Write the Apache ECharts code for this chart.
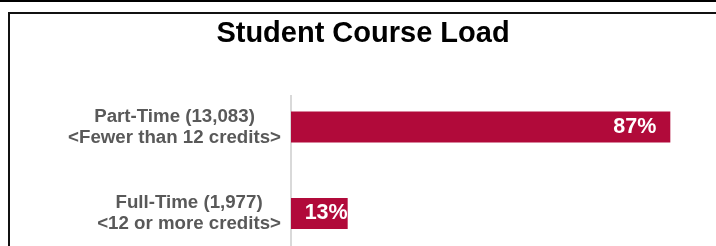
<!DOCTYPE html>
<html>
<head>
<meta charset="utf-8">
<script src="https://cdn.jsdelivr.net/npm/echarts@6/dist/echarts.min.js"></script>
<style>
html,body{margin:0;padding:0;background:#fff;width:716px;height:246px;overflow:hidden;}
#chart{width:760px;height:280px;}
</style>
</head>
<body>
<div id="chart"></div>
<script>
var titleText = 'Student Course Load';
var categoryNames = ['Part-Time (13,083)', 'Full-Time (1,977)'];
var categoryNotes = ['<Fewer than 12 credits>', '<12 or more credits>'];
var percentValues = [87, 13];
var axisMin = 0;
var axisMax = 100;

var categories = categoryNames.map(function (n, i) { return n + '\n' + categoryNotes[i]; });

var chart = echarts.init(document.getElementById('chart'), null, {renderer: 'canvas'});
chart.setOption({
  animation: false,
  backgroundColor: '#ffffff',
  title: {
    text: titleText,
    left: 363,
    top: 19,
    textAlign: 'center',
    padding: 0,
    textStyle: {
      fontFamily: 'Liberation Sans, Arial, sans-serif',
      fontWeight: 'bold',
      fontSize: 29,
      color: '#000000'
    }
  },
  graphic: [
    {type: 'rect', shape: {x: 0, y: 0, width: 760, height: 2}, style: {fill: '#000'}, silent: true},
    {type: 'rect', shape: {x: 9, y: 13, width: 800, height: 300}, style: {fill: 'none', stroke: '#111', lineWidth: 2}, silent: true},
    {type: 'line', shape: {x1: 291, y1: 95, x2: 291, y2: 280}, style: {stroke: '#d9d9d9', lineWidth: 2}, silent: true}
  ],
  grid: {left: 291, top: 83.75, width: 436, height: 173, containLabel: false},
  xAxis: {
    type: 'value', min: axisMin, max: axisMax, show: false
  },
  yAxis: {
    type: 'category',
    inverse: true,
    data: categories,
    axisLine: {show: false},
    axisTick: {show: false},
    axisLabel: {
      margin: 10,
      align: 'right',
      formatter: function (v) {
        var parts = v.split('\n');
        return '{a|' + parts[0] + '}\n{a|' + parts[1] + '}';
      },
      rich: {
        a: {
          align: 'center',
          fontFamily: 'Liberation Sans, Arial, sans-serif',
          fontWeight: 'bold',
          fontSize: 18.7,
          lineHeight: 21,
          color: '#595959'
        }
      }
    }
  },
  series: [{
    type: 'bar',
    data: percentValues.map(function (v, i) {
      return i === percentValues.length - 1 ? {value: v, label: {distance: 0}} : v;
    }),
    barWidth: 31,
    itemStyle: {color: '#b10a3a'},
    label: {
      show: true,
      position: 'insideRight',
      distance: 14,
      formatter: '{c}%',
      color: '#ffffff',
      fontFamily: 'Liberation Sans, Arial, sans-serif',
      fontWeight: 'bold',
      fontSize: 21.5
    }
  }]
});
</script>
</body>
</html>
